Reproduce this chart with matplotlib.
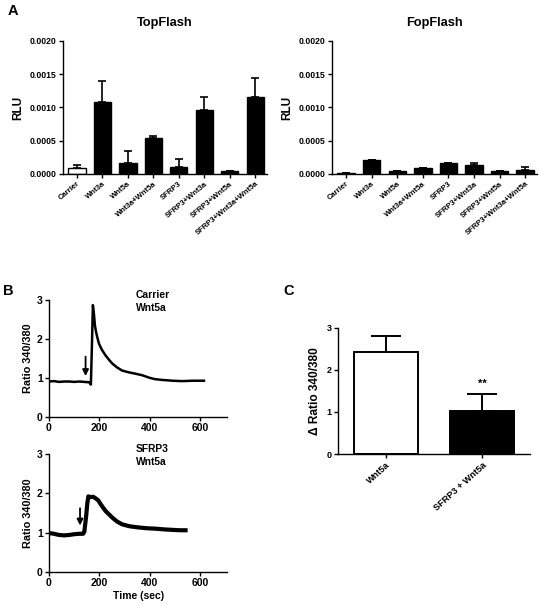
import matplotlib
matplotlib.use("Agg")
import matplotlib.pyplot as plt
import numpy as np

plt.rcParams['font.family'] = ['Liberation Sans', 'DejaVu Sans']
plt.rcParams['font.weight'] = 'bold'
plt.rcParams['axes.labelweight'] = 'bold'

# ---- data ----
categories = ["Carrier", "Wnt3a", "Wnt5a", "Wnt3a+Wnt5a", "SFRP3",
              "SFRP3+Wnt3a", "SFRP3+Wnt5a", "SFRP3+Wnt3a+Wnt5a"]
top_vals = [0.00009, 0.00108, 0.00016, 0.00054, 0.00011, 0.00096, 0.00004, 0.00115]
top_errs = [0.00004, 0.00032, 0.00019, 0.00003, 0.00011, 0.00020, 0.00000, 0.00030]
fop_vals = [0.00002, 0.00021, 0.00004, 0.00009, 0.00017, 0.00013, 0.00005, 0.00006]
fop_errs = [0.00000, 0.00000, 0.00000, 0.00000, 0.00000, 0.00003, 0.00000, 0.00005]
rlu_ticks = [0.0, 0.0005, 0.0010, 0.0015, 0.0020]

carrier_t = [0, 20, 40, 60, 80, 100, 120, 140, 160, 166, 170, 174, 178, 182, 186, 190,
             198, 210, 224, 240, 251, 270, 290, 320, 343, 370, 396, 420, 449, 490, 528, 570, 614]
carrier_r = [0.91, 0.92, 0.90, 0.91, 0.91, 0.90, 0.91, 0.90, 0.89, 0.83, 1.80, 2.87, 2.65,
             2.35, 2.20, 2.08, 1.88, 1.72, 1.58, 1.45, 1.37, 1.27, 1.19, 1.14, 1.11, 1.07,
             1.01, 0.97, 0.95, 0.93, 0.92, 0.93, 0.93]

sfrp_t = [0, 20, 40, 60, 80, 100, 120, 135, 140, 147, 152, 156, 165, 175, 185, 195, 205,
          215, 224, 240, 251, 270, 290, 320, 356, 390, 422, 460, 488, 520, 541]
sfrp_r = [0.99, 0.97, 0.94, 0.93, 0.94, 0.96, 0.97, 0.97, 1.02, 1.40, 1.75, 1.92, 1.90,
          1.91, 1.87, 1.82, 1.72, 1.63, 1.55, 1.45, 1.38, 1.28, 1.21, 1.16, 1.13, 1.11,
          1.10, 1.08, 1.07, 1.06, 1.06]

c_categories = ["Wnt5a", "SFRP3 + Wnt5a"]
c_vals = [2.43, 1.02]
c_errs = [0.37, 0.42]

fig = plt.figure(figsize=(5.4, 6.06), dpi=100)

def style(ax, lw=1.0):
    for s in ['top', 'right']:
        ax.spines[s].set_visible(False)
    for s in ['left', 'bottom']:
        ax.spines[s].set_linewidth(lw)
    ax.tick_params(direction='out', length=3, width=lw, pad=1.5)

def bar_panel(rect, vals, errs, title, white_first):
    ax = fig.add_axes(rect)
    x = np.arange(len(categories))
    colors = ['white' if (i == 0 and white_first) else 'black' for i in range(len(vals))]
    ax.bar(x, vals, width=0.68, color=colors, edgecolor='black', linewidth=1.0, zorder=2)
    ax.errorbar(x, vals, yerr=[np.zeros(len(vals)), errs], fmt='none', ecolor='black',
                elinewidth=1.2, capsize=3.2, capthick=1.2, zorder=1)
    ax.set_xlim(-0.55, 7.47)
    ax.set_ylim(0, 0.002)
    ax.set_yticks(rlu_ticks)
    ax.set_yticklabels([f"{v:.4f}" for v in rlu_ticks], fontsize=6.2, fontweight='bold')
    ax.set_xticks(x)
    ax.set_xticklabels(categories, rotation=40, ha='right', rotation_mode='anchor',
                       fontsize=5.5, fontweight='bold')
    ax.set_ylabel("RLU", fontsize=8.5, fontweight='bold', labelpad=4)
    ax.set_title(title, fontsize=9.2, fontweight='bold', pad=11)
    style(ax)
    return ax

bar_panel([0.1167, 0.7129, 0.378, 0.2195], top_vals, top_errs, "TopFlash", True)
bar_panel([0.6148, 0.7129, 0.380, 0.2195], fop_vals, fop_errs, "FopFlash", False)

# Panel B traces
def trace_panel(rect, t, r, lw, label, arrow_x, arrow_top, arrow_bot, xlabel=None):
    ax = fig.add_axes(rect)
    ax.plot(t, r, color='black', linewidth=lw, solid_joinstyle='round')
    ax.set_xlim(0, 706)
    ax.set_ylim(0, 3)
    ax.set_xticks([0, 200, 400, 600])
    ax.set_yticks([0, 1, 2, 3])
    for lab in ax.get_xticklabels() + ax.get_yticklabels():
        lab.set_fontsize(7.5)
        lab.set_fontweight('bold')
    ax.set_ylabel("Ratio 340/380", fontsize=7.8, fontweight='bold', labelpad=3)
    ax.annotate('', xy=(arrow_x, arrow_bot), xytext=(arrow_x, arrow_top),
                arrowprops=dict(arrowstyle='-|>', color='black', lw=1.3,
                                mutation_scale=9, shrinkA=0, shrinkB=0))
    ax.text(345, 3.25, label, fontsize=7.4, fontweight='bold', va='top', ha='left',
            linespacing=1.35, clip_on=False)
    if xlabel:
        ax.set_xlabel(xlabel, fontsize=7.5, fontweight='bold', labelpad=2)
    style(ax)
    return ax

trace_panel([0.0907, 0.3119, 0.33, 0.193], carrier_t, carrier_r, 1.8, "Carrier\nWnt5a",
            145, 1.55, 1.05)
trace_panel([0.0907, 0.0561, 0.33, 0.195], sfrp_t, sfrp_r, 3.0, "SFRP3\nWnt5a",
            123, 1.62, 1.18, xlabel="Time (sec)")

# Panel C
axc = fig.add_axes([0.626, 0.2508, 0.3556, 0.208])
xc = np.arange(len(c_categories))
axc.bar(xc, c_vals, width=0.66, color=['white', 'black'], edgecolor='black',
        linewidth=1.4, zorder=2)
axc.errorbar(xc, c_vals, yerr=[np.zeros(2), c_errs], fmt='none', ecolor='black',
             elinewidth=1.4, capsize=11, capthick=1.4, zorder=1)
axc.text(xc[1], c_vals[1] + c_errs[1] + 0.12, "**", ha='center', va='bottom',
         fontsize=8, fontweight='bold')
axc.set_xlim(-0.5, 1.5)
axc.set_ylim(0, 3)
axc.set_yticks([0, 1, 2, 3])
axc.set_xticks(xc)
axc.set_xticklabels(c_categories, rotation=42, ha='right', rotation_mode='anchor',
                    fontsize=6.6, fontweight='bold')
for lab in axc.get_yticklabels():
    lab.set_fontsize(6.5)
    lab.set_fontweight('bold')
axc.set_ylabel("Δ Ratio 340/380", fontsize=8.6, fontweight='bold', labelpad=4)
style(axc)

# panel letters
fig.text(8 / 540, 1 - 4 / 606, "A", fontsize=10.5, fontweight='bold', va='top', ha='left')
fig.text(3 / 540, 1 - 284 / 606, "B", fontsize=10.5, fontweight='bold', va='top', ha='left')
fig.text(283 / 540, 1 - 284 / 606, "C", fontsize=10.5, fontweight='bold', va='top', ha='left')

fig.savefig("out.png", dpi=100, facecolor='white')
